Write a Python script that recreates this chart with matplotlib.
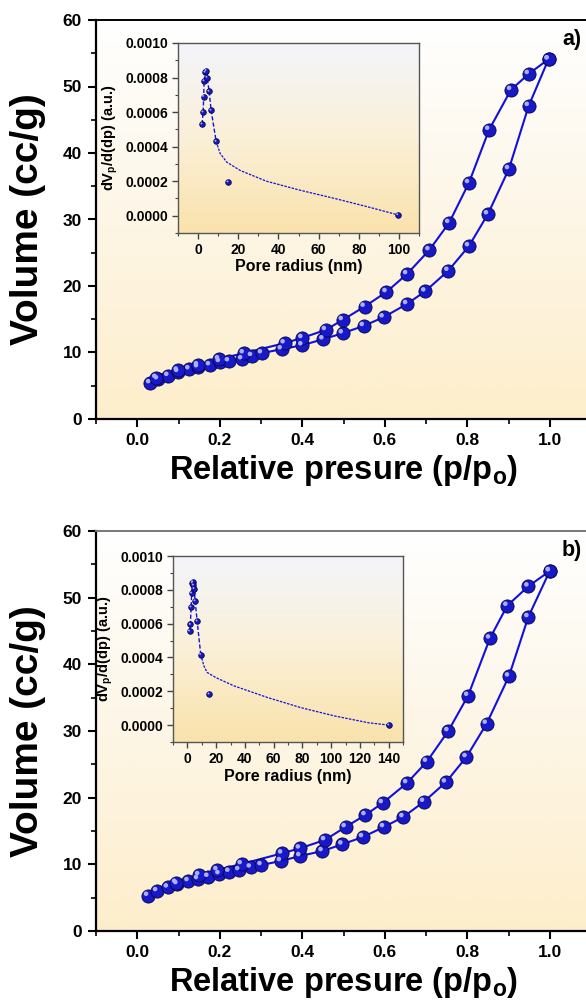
import matplotlib
matplotlib.use("Agg")
import matplotlib.pyplot as plt
import numpy as np
from matplotlib.colors import LinearSegmentedColormap
from matplotlib.ticker import MultipleLocator, FormatStrFormatter
from matplotlib.transforms import offset_copy

plt.rcParams['font.family'] = ['Liberation Sans', 'DejaVu Sans']
plt.rcParams['font.weight'] = 'bold'
plt.rcParams['mathtext.fontset'] = 'custom'
plt.rcParams['mathtext.rm'] = 'Liberation Sans:bold'
plt.rcParams['mathtext.it'] = 'Liberation Sans:bold'
plt.rcParams['mathtext.bf'] = 'Liberation Sans:bold'

# ---- panel a) isotherm ----
ads_a_x = [0.031, 0.050, 0.075, 0.099, 0.126, 0.147, 0.176, 0.200, 0.222, 0.254, 0.278, 0.302, 0.350,
           0.400, 0.451, 0.498, 0.549, 0.597, 0.654, 0.698, 0.754, 0.804, 0.850, 0.901, 0.949, 0.997]
ads_a_y = [5.4, 6.0, 6.5, 7.1, 7.5, 7.8, 8.1, 8.6, 8.7, 9.0, 9.5, 9.9, 10.5,
           11.1, 12.0, 12.9, 14.0, 15.3, 17.3, 19.2, 22.3, 26.0, 30.8, 37.6, 47.1, 54.1]
des_a_x = [0.997, 0.949, 0.906, 0.853, 0.804, 0.756, 0.708, 0.654, 0.604, 0.551, 0.498, 0.457,
           0.400, 0.357, 0.258, 0.198, 0.147, 0.098, 0.046]
des_a_y = [54.1, 51.9, 49.5, 43.5, 35.5, 29.5, 25.4, 21.8, 19.1, 16.9, 14.9, 13.4,
           12.2, 11.4, 9.9, 9.0, 8.1, 7.3, 6.2]

# ---- panel b) isotherm ----
ads_b_x = [0.026, 0.048, 0.074, 0.097, 0.124, 0.147, 0.172, 0.199, 0.223, 0.247, 0.275, 0.301, 0.348,
           0.395, 0.449, 0.497, 0.547, 0.598, 0.645, 0.695, 0.748, 0.798, 0.847, 0.901, 0.948, 1.0]
ads_b_y = [5.3, 6.0, 6.55, 7.05, 7.5, 7.8, 8.15, 8.55, 8.9, 9.15, 9.55, 9.9, 10.5,
           11.25, 12.0, 13.0, 14.1, 15.6, 17.1, 19.4, 22.3, 26.1, 31.1, 38.2, 47.1, 54.0]
des_b_x = [1.0, 0.948, 0.897, 0.855, 0.802, 0.754, 0.702, 0.654, 0.595, 0.553, 0.505, 0.455,
           0.394, 0.351, 0.253, 0.194, 0.150, 0.094]
des_b_y = [54.0, 51.7, 48.8, 43.9, 35.3, 30.0, 25.4, 22.2, 19.2, 17.4, 15.6, 13.65,
           12.4, 11.65, 10.05, 9.15, 8.4, 7.25]

# ---- pore size distributions (insets) ----
psd_a_r = [2.0, 2.5, 2.8, 3.0, 3.5, 4.0, 4.5, 5.5, 6.5, 9.0, 15.0, 99.5]
psd_a_v = [0.00053, 0.0006, 0.00069, 0.00078, 0.00083, 0.00084, 0.0008, 0.00072, 0.00061,
           0.00043, 0.000195, 0.000005]
fit_a_r = [9.0, 11.0, 14.3, 21.0, 34.0, 51.0, 68.0, 85.0, 99.5]
fit_a_v = [0.00043, 0.00036, 0.00031, 0.000262, 0.0002, 0.000147, 0.0001, 0.00005, 0.000005]

psd_b_r = [1.6, 2.1, 2.6, 3.0, 3.5, 3.7, 4.2, 4.7, 5.4, 6.8, 9.3, 15.2, 140.2]
psd_b_v = [0.000555, 0.000595, 0.000698, 0.00078, 0.00084, 0.000847, 0.000827, 0.000807,
           0.000734, 0.000615, 0.000417, 0.000183, 0.0]
fit_b_r = [9.3, 11.5, 13.8, 20.0, 32.4, 55.8, 79.0, 102.4, 125.8, 140.2]
fit_b_v = [0.000417, 0.00035, 0.000311, 0.00028, 0.000232, 0.000163, 0.000103, 0.000054,
           0.000014, 0.0]

BLUE = '#1010e0'
main_cmap = LinearSegmentedColormap.from_list('m', ['#fdeecb', '#fdf6e6', '#ffffff'])
inset_cmap = LinearSegmentedColormap.from_list('i', ['#f9e2ab', '#fbf0d8', '#f3f5fb'])


def gradient(ax, cmap):
    g = np.linspace(0, 1, 256).reshape(-1, 1)
    ax.imshow(g, cmap=cmap, origin='lower', extent=[0, 1, 0, 1], aspect='auto',
              transform=ax.transAxes, zorder=0)


def balls(ax, fig, x, y, size, hl):
    ax.scatter(x, y, s=size, color='#1818c8', edgecolors='#05054a', linewidths=0.6, zorder=4)
    tr = offset_copy(ax.transData, fig=fig, x=-hl, y=hl, units='points')
    ax.scatter(x, y, s=size * 0.12, color='#aab0ff', edgecolors='none', transform=tr, zorder=5)


def main_panel(fig, rect, ads_x, ads_y, des_x, des_y, label, top_color):
    ax = fig.add_axes(rect)
    gradient(ax, main_cmap)
    ax.plot(ads_x, ads_y, color=BLUE, lw=1.5, zorder=3)
    ax.plot(des_x, des_y, color=BLUE, lw=1.5, zorder=3)
    balls(ax, fig, ads_x, ads_y, 90, 1.4)
    balls(ax, fig, des_x, des_y, 90, 1.4)
    ax.set_xlim(-0.1, 1.1)
    ax.set_ylim(0, 60)
    ax.xaxis.set_major_locator(MultipleLocator(0.2))
    ax.xaxis.set_minor_locator(MultipleLocator(0.1))
    ax.yaxis.set_major_locator(MultipleLocator(10))
    ax.yaxis.set_minor_locator(MultipleLocator(5))
    ax.xaxis.set_major_formatter(FormatStrFormatter('%.1f'))
    ax.tick_params(which='major', direction='out', length=6, width=1.5, labelsize=12.5, pad=4)
    ax.tick_params(which='minor', direction='out', length=3.5, width=1.2)
    for sp in ['left', 'bottom']:
        ax.spines[sp].set_linewidth(1.6)
    ax.spines['top'].set_color(top_color)
    ax.spines['top'].set_linewidth(1.4)
    ax.set_ylabel('Volume (cc/g)', fontsize=28, fontweight='bold', labelpad=12)
    ax.set_xlabel(r'Relative presure (p/p$_\mathregular{o}$)', fontsize=23.5, fontweight='bold',
                  labelpad=4)
    ax.text(0.962, 0.952, label, transform=ax.transAxes, fontsize=15.5, fontweight='bold',
            ha='center', va='center', zorder=6)
    return ax


def inset_panel(fig, rect, r, v, fit_r, fit_v, xmax, xticks_max):
    ax = fig.add_axes(rect)
    gradient(ax, inset_cmap)
    n = len(r) - 2
    ax.plot(r[:n], v[:n], color=BLUE, lw=1.0, ls=(0, (3, 1.5)), zorder=3)
    ax.plot(fit_r, fit_v, color=BLUE, lw=0.9, ls=(0, (2, 1)), zorder=3)
    balls(ax, fig, r, v, 16, 0.5)
    ax.set_xlim(-10, xmax)
    ax.set_ylim(-0.0001, 0.001)
    ax.set_xticks(np.arange(0, xticks_max + 1, 20))
    ax.xaxis.set_minor_locator(MultipleLocator(10))
    ax.yaxis.set_major_locator(MultipleLocator(0.0002))
    ax.yaxis.set_minor_locator(MultipleLocator(0.0001))
    ax.yaxis.set_major_formatter(FormatStrFormatter('%.4f'))
    ax.tick_params(which='major', direction='out', length=4, width=1.0, labelsize=10, pad=3,
                   color='#444444')
    ax.tick_params(which='minor', direction='out', length=2.5, width=0.8, color='#444444')
    for sp in ax.spines.values():
        sp.set_color('#555555')
        sp.set_linewidth(1.0)
    ax.set_xlabel('Pore radius (nm)', fontsize=11.5, fontweight='bold', labelpad=2)
    ax.set_ylabel(r'dV$_\mathregular{p}$/d(dp) (a.u.)', fontsize=10.5, fontweight='bold',
                  labelpad=4)
    return ax


fig = plt.figure(figsize=(5.86, 10.01), dpi=100)

main_panel(fig, [96 / 586, 1 - 419 / 1001, 495 / 586, 399 / 1001],
           ads_a_x, ads_a_y, des_a_x, des_a_y, 'a)', 'black')
inset_panel(fig, [178 / 586, 1 - 233 / 1001, 241 / 586, 190 / 1001],
            psd_a_r, psd_a_v, fit_a_r, fit_a_v, 110, 100)

main_panel(fig, [96 / 586, 1 - 931 / 1001, 495 / 586, 400 / 1001],
           ads_b_x, ads_b_y, des_b_x, des_b_y, 'b)', '#777777')
inset_panel(fig, [173 / 586, 1 - 742 / 1001, 230 / 586, 186 / 1001],
            psd_b_r, psd_b_v, fit_b_r, fit_b_v, 150, 140)

fig.savefig('out.png', dpi=100)
